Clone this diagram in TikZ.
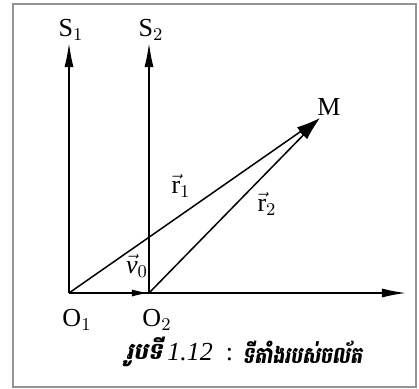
\documentclass[tikz,border=0pt]{standalone}
\usepackage{fontspec}
\setmainfont{Liberation Serif}
\newfontfamily\khmerfont[Script=Khmer,FakeSlant=0.2]{Battambang}
\usetikzlibrary{arrows.meta}

\begin{document}
\begin{tikzpicture}[x=0.5pt,y=-0.5pt,
    axis/.style={line width=0.75pt,-{Latex[length=12pt,width=4.5pt]}},
    radius vec/.style={line width=0.75pt,-{Latex[length=12pt,width=5.5pt]}},
    speed vec/.style={line width=0.75pt,-{Latex[length=8.5pt,width=3.5pt]}},
    lbl/.style={inner sep=0pt,font=\fontsize{13}{15}\selectfont},
    khmer/.style={font=\khmerfont\bfseries\fontsize{11.5}{14}\selectfont}]
  \useasboundingbox (0,0) rectangle (419,388);
  % frame
  \draw[gray!85,line width=1pt] (13,4) rectangle (416,387);

  % points
  \coordinate (O1) at (69,293);
  \coordinate (O2) at (149,293);
  \coordinate (S1) at (69,43);
  \coordinate (S2) at (149,43);
  \coordinate (X)  at (406,293);
  \coordinate (M)  at (320,118);

  % axes
  \draw[axis] (O1) -- (S1);
  \draw[axis] (O2) -- (S2);
  \draw[axis] (O1) -- (X);

  % position vectors
  \draw[radius vec] (O1) -- (M);
  \draw[radius vec] (O2) -- (M);
  \draw[speed vec] (O1) -- (O2);

  % labels
  \node[lbl] (s1lbl) at (71,30) {$\mathrm{S}_1$};
  \node[lbl] (s2lbl) at (151,30) {$\mathrm{S}_2$};
  \node[lbl] (mlbl) at (329,107) {M};
  \node[lbl] (r1lbl) at (181,186) {$\vec{\mathrm{r}}_1$};
  \node[lbl] (r2lbl) at (267,204) {$\vec{\mathrm{r}}_2$};
  \node[lbl] (v0lbl) at (137,266) {$\vec{\mathit{v}}_0$};
  \node[lbl] (o1lbl) at (77,320) {$\mathrm{O}_1$};
  \node[lbl] (o2lbl) at (157,320) {$\mathrm{O}_2$};

  % caption
  \node[lbl,khmer,anchor=east] (capword) at (163,352) {រូបទី};
  \node[lbl,anchor=west] (capnum) at (167,352) {\textit{1.12}\ \ :};
  \node[lbl,khmer,anchor=west] (captext) at (242,352) {\scalebox{0.82}[1]{ទីតាំងរបស់ចល័ត}};
\end{tikzpicture}
\end{document}
